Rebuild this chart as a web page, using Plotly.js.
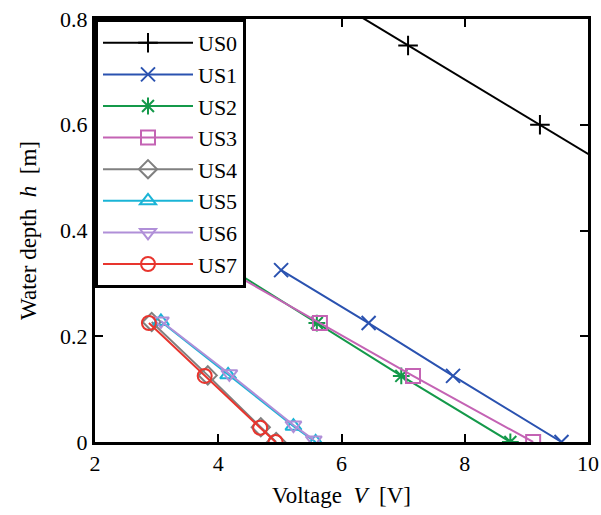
<!DOCTYPE html>
<html>
<head>
<meta charset="utf-8">
<script src="https://cdn.plot.ly/plotly-3.0.1.min.js"></script>
<style>html,body{margin:0;padding:0;background:#fff;}#chart{width:601px;height:515px;}</style>
</head>
<body>
<div id="chart"></div>
<script>
const names = ["US0","US1","US2","US3","US4","US5","US6","US7"];
const colors = ["#000000","#2a52b0","#14994a","#c463b4","#808080","#1ab4d6","#b08fd8","#e8352e"];
const symbols = ["cross-thin-open","x-thin-open","asterisk-open","square-open","diamond-open","triangle-up-open","triangle-down-open","circle-open"];

const US0_V = [4.95, 7.08, 9.22, 11.35];
const US0_h = [0.9, 0.75, 0.6, 0.45];
const US1_V = [5.02, 6.44, 7.81, 9.57];
const US1_h = [0.325, 0.225, 0.125, 0];
const US2_V = [4.23, 5.60, 6.97, 8.74];
const US2_h = [0.325, 0.225, 0.125, 0];
const US3_V = [4.14, 5.65, 7.16, 9.11];
const US3_h = [0.325, 0.225, 0.125, 0];
const US4_V = [2.92, 3.83, 4.69, 4.94];
const US4_h = [0.227, 0.126, 0.028, 0];
const US5_V = [3.07, 4.16, 5.22, 5.58];
const US5_h = [0.228, 0.127, 0.030, 0];
const US6_V = [3.07, 4.18, 5.22, 5.55];
const US6_h = [0.229, 0.129, 0.032, 0.004];
const US7_V = [2.875, 3.78, 4.68, 4.93];
const US7_h = [0.225, 0.125, 0.027, 0];

const xs = [US0_V, US1_V, US2_V, US3_V, US4_V, US5_V, US6_V, US7_V];
const ys = [US0_h, US1_h, US2_h, US3_h, US4_h, US5_h, US6_h, US7_h];

const traces = names.map((n, i) => ({
  x: xs[i], y: ys[i], name: n, type: 'scatter', mode: 'lines+markers',
  line: {color: colors[i], width: 2},
  marker: {symbol: symbols[i], size: 14, color: colors[i], line: {color: colors[i], width: 2}},
  cliponaxis: true
}));

const FAM = 'Times New Roman';

const layout = {
  width: 601, height: 515,
  margin: {l: 95, r: 13, t: 19, b: 73},
  paper_bgcolor: '#fff', plot_bgcolor: '#fff',
  font: {family: FAM, color: '#000', size: 21},
  showlegend: true,
  legend: {
    x: 0, y: 1, xanchor: 'left', yanchor: 'top', xref: 'paper', yref: 'paper',
    bgcolor: '#fff', bordercolor: '#000', borderwidth: 3,
    font: {family: FAM, size: 22, color: '#000'},
    itemwidth: 90
  },
  xaxis: {
    range: [2, 10], tickvals: [2, 4, 6, 8, 10], ticktext: ["2","4","6","8","10"],
    ticks: 'inside', ticklen: 8, tickwidth: 2, tickcolor: '#000',
    showline: true, linewidth: 3, linecolor: '#000', mirror: 'ticks',
    showgrid: false, zeroline: false,
    tickfont: {family: FAM, size: 22, color: '#000'},
    title: {text: 'Voltage  <i>V</i>  [V]', font: {family: FAM, size: 23, color: '#000'}, standoff: 12}
  },
  yaxis: {
    range: [0, 0.8], tickvals: [0, 0.2, 0.4, 0.6, 0.8], ticktext: ["0","0.2","0.4","0.6","0.8"],
    ticks: 'inside', ticklen: 8, tickwidth: 2, tickcolor: '#000',
    showline: true, linewidth: 3, linecolor: '#000', mirror: 'ticks',
    showgrid: false, zeroline: false,
    tickfont: {family: FAM, size: 22, color: '#000'},
    title: {text: 'Water depth  <i>h</i>  [m]', font: {family: FAM, size: 23, color: '#000'}, standoff: 18}
  }
};

Plotly.newPlot('chart', traces, layout, {displayModeBar: false, staticPlot: true});
</script>
</body>
</html>
